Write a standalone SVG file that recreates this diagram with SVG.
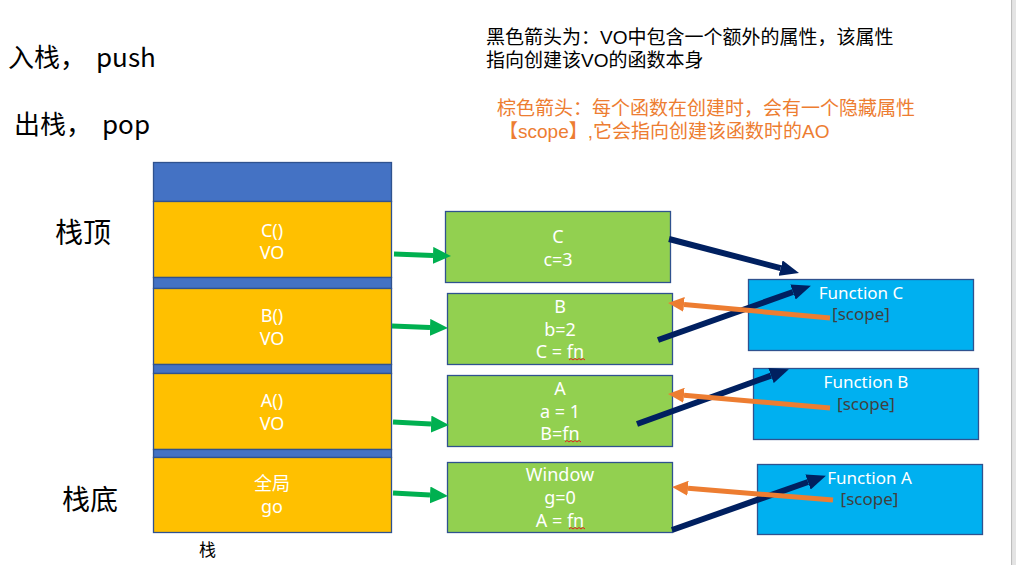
<svg xmlns="http://www.w3.org/2000/svg" width="1016" height="565" viewBox="0 0 1016 565">
<defs>
<style>
.cjk{font-family:"Noto Sans CJK SC","Noto Sans",sans-serif}
.note{font-family:"Liberation Sans","Noto Sans CJK SC",sans-serif;font-size:19px}
.lbl{font-family:"Noto Sans","Noto Sans CJK SC",sans-serif;font-size:18px;fill:#ffffff;text-anchor:middle}
.fn{font-family:"Noto Sans","Noto Sans CJK SC",sans-serif;font-size:17px;text-anchor:middle}
.stk{stroke:#2F528F;stroke-width:1.3}
.yel{fill:#FFC000}
.blu{fill:#4472C4}
.grn{fill:#92D050}
.sky{fill:#00B0F0}
.ga{stroke:#00B050;stroke-width:5;fill:none;marker-end:url(#hg)}
.na{stroke:#002060;stroke-width:6;fill:none;marker-end:url(#hn)}
.oa{stroke:#ED7D31;stroke-width:5;fill:none;marker-end:url(#ho)}
.sq{stroke:#e02020;stroke-width:1;fill:none}
</style>
<marker id="hg" markerUnits="userSpaceOnUse" viewBox="0 0 18 17" markerWidth="18" markerHeight="17" refX="0" refY="8.5" orient="auto"><path d="M0,0 L18,8.5 L0,17 z" fill="#00B050"/></marker>
<marker id="hn" markerUnits="userSpaceOnUse" viewBox="0 0 19 16" markerWidth="19" markerHeight="16" refX="0" refY="8" orient="auto"><path d="M0,0 L19,8 L0,16 z" fill="#002060"/></marker>
<marker id="ho" markerUnits="userSpaceOnUse" viewBox="0 0 16 15" markerWidth="16" markerHeight="15" refX="0" refY="7.5" orient="auto"><path d="M0,0 L16,7.5 L0,15 z" fill="#ED7D31"/></marker>
</defs>
<rect width="1016" height="565" fill="#ffffff"/>
<rect x="1011" y="0" width="1.5" height="565" fill="#bdbdbd"/>
<rect x="1012.5" y="0" width="3.5" height="565" fill="#e4e4e4"/>

<g id="titles">
<text class="cjk" x="8" y="67" font-size="26" fill="#000">入栈，<tspan x="96">push</tspan></text>
<text class="cjk" x="14" y="134" font-size="26" fill="#000">出栈，<tspan x="102">pop</tspan></text>
<text class="cjk" x="55" y="243" font-size="28" fill="#000">栈顶</text>
<text class="cjk" x="62" y="510" font-size="28" fill="#000">栈底</text>
<text class="cjk" x="199" y="556" font-size="17" fill="#000">栈</text>
</g>
<g id="notes">
<text class="note" x="486" y="44" fill="#000">黑色箭头为：VO中包含一个额外的属性，该属性</text>
<text class="note" x="486" y="67" fill="#000">指向创建该VO的函数本身</text>
<text class="note" x="497" y="115" fill="#ED7D31">棕色箭头：每个函数在创建时，会有一个隐藏属性</text>
<text class="note" x="499" y="138" fill="#ED7D31">【scope】,它会指向创建该函数时的AO</text>
</g>

<g id="stack">
<rect class="blu stk" x="153.5" y="162.5" width="238" height="39"/>
<rect class="yel stk" x="153.5" y="201.5" width="238" height="76"/>
<rect class="blu stk" x="153.5" y="277.5" width="238" height="11"/>
<rect class="yel stk" x="153.5" y="288.5" width="238" height="76"/>
<rect class="blu stk" x="153.5" y="364.5" width="238" height="9"/>
<rect class="yel stk" x="153.5" y="373.5" width="238" height="76"/>
<rect class="blu stk" x="153.5" y="449.5" width="238" height="8"/>
<rect class="yel stk" x="153.5" y="457.5" width="238" height="75"/>
</g>
<g id="frameC"><text class="lbl" x="272" y="237">C()</text><text class="lbl" x="272" y="259">VO</text></g>
<g id="frameB"><text class="lbl" x="272" y="322">B()</text><text class="lbl" x="272" y="345">VO</text></g>
<g id="frameA"><text class="lbl" x="272" y="407">A()</text><text class="lbl" x="272" y="430">VO</text></g>
<g id="frameG"><text class="lbl cjk" x="272" y="490">全局</text><text class="lbl" x="272" y="513">go</text></g>

<g id="voC"><rect class="grn stk" x="445.5" y="211.5" width="225" height="71"/>
<text class="lbl" x="558" y="243">C</text><text class="lbl" x="558" y="266">c=3</text></g>
<g id="voB"><rect class="grn stk" x="447.5" y="293.5" width="225" height="71"/>
<text class="lbl" x="560" y="313">B</text><text class="lbl" x="560" y="336">b=2</text><text class="lbl" x="560" y="358">C = fn</text>
<path class="sq" d="M569,360 l2,-1.5 l2,1.5 l2,-1.5 l2,1.5 l2,-1.5 l2,1.5 l2,-1.5 l2,1.5"/></g>
<g id="voA"><rect class="grn stk" x="447.5" y="375.5" width="225" height="71"/>
<text class="lbl" x="560" y="395">A</text><text class="lbl" x="560" y="418">a = 1</text><text class="lbl" x="560" y="440">B=fn</text>
<path class="sq" d="M565,442 l2,-1.5 l2,1.5 l2,-1.5 l2,1.5 l2,-1.5 l2,1.5 l2,-1.5 l2,1.5"/></g>
<g id="voW"><rect class="grn stk" x="447.5" y="462.5" width="225" height="70"/>
<text class="lbl" x="560" y="481">Window</text><text class="lbl" x="560" y="504">g=0</text><text class="lbl" x="560" y="527">A = fn</text>
<path class="sq" d="M569,529 l2,-1.5 l2,1.5 l2,-1.5 l2,1.5 l2,-1.5 l2,1.5 l2,-1.5 l2,1.5"/></g>

<g id="funcC"><rect class="sky stk" x="748.5" y="279.5" width="225" height="71"/>
<text class="fn" x="861" y="299" fill="#ffffff">Function C</text><text class="fn" x="861" y="320" fill="#404040">[scope]</text></g>
<g id="funcB"><rect class="sky stk" x="753.5" y="368.5" width="225" height="71"/>
<text class="fn" x="866" y="388" fill="#ffffff">Function B</text><text class="fn" x="866" y="410" fill="#404040">[scope]</text></g>
<g id="funcA"><rect class="sky stk" x="757.5" y="464.5" width="225" height="70"/>
<text class="fn" x="869.5" y="484" fill="#ffffff">Function A</text><text class="fn" x="869.5" y="505" fill="#404040">[scope]</text></g>

<g id="connectors">
<path class="ga" d="M394,254 L433,255.4"/>
<path class="ga" d="M392,326 L430,327.4"/>
<path class="ga" d="M393,422 L431,424.1"/>
<path class="ga" d="M393,493 L430,495"/>
<path class="na" d="M669,239 L780.6,268.1"/>
<path class="na" d="M658,340 L793,292"/>
<path class="na" d="M637,424 L771,375.6"/>
<path class="na" d="M672,530 L808,482"/>
<path class="oa" d="M830,318 L684,304.4"/>
<path class="oa" d="M830,408 L684,395.3"/>
<path class="oa" d="M833,500 L688,488.3"/>
</g>
</svg>
